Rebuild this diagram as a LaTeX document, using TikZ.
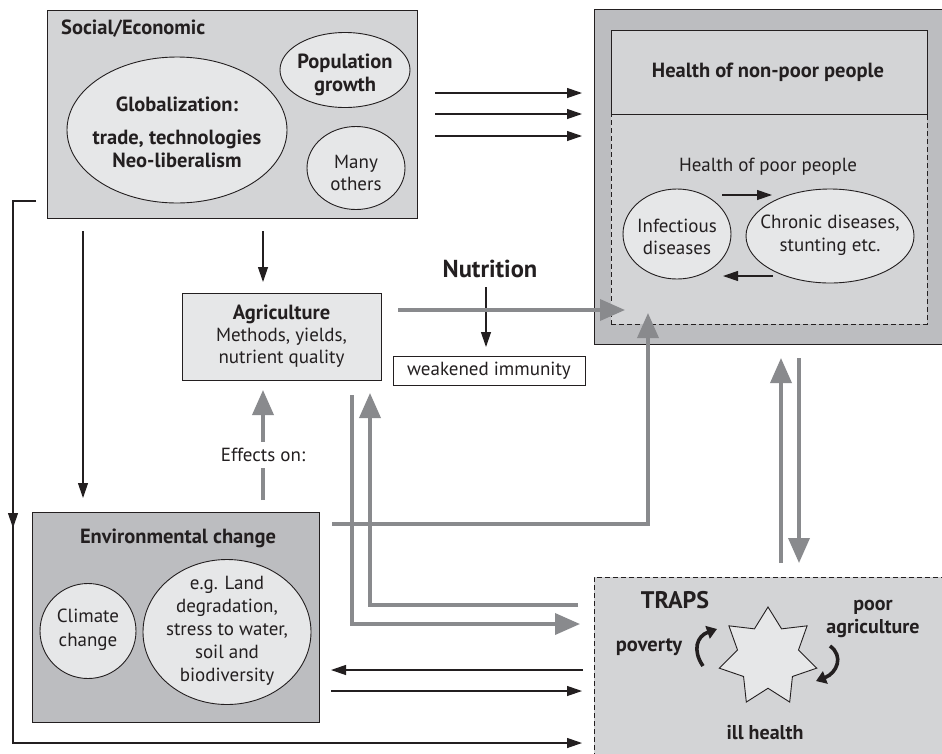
\documentclass[tikz,border=0pt]{standalone}
\usepackage{fontspec}
\setmainfont{PT Sans}
\usetikzlibrary{arrows.meta,shapes.geometric,calc}
\definecolor{boxlight}{HTML}{D3D4D6}
\definecolor{boxdark}{HTML}{BCBDC0}
\definecolor{ellfill}{HTML}{E6E7E8}
\definecolor{garrow}{HTML}{898A8D}
\definecolor{ink}{HTML}{231F20}
\begin{document}
\begin{tikzpicture}[x=1pt,y=-1pt,
  box/.style={draw=ink, line width=0.9pt, inner sep=0pt, outer sep=0pt, anchor=north west},
  dashbox/.style={box, dash pattern=on 5pt off 3pt},
  ell/.style={ellipse, draw=ink, line width=0.9pt, fill=ellfill, inner sep=0pt},
  blk/.style={draw=ink, line width=1.2pt, -{Triangle[length=15pt,width=10pt]}},
  gry/.style={draw=garrow, line width=3.6pt, -{Triangle[length=25pt,width=21pt]}},
  gryline/.style={draw=garrow, line width=3.6pt},
  curv/.style={draw=ink, line width=3.6pt, -{Triangle[length=10pt,width=13pt]}},
  lab/.style={font=\fontsize{19}{22.5}\selectfont, text=ink, align=center, inner sep=0pt},
  blab/.style={font=\fontsize{20.5}{23}\selectfont\bfseries, text=ink, align=center, inner sep=0pt},
]
\useasboundingbox (0,0) rectangle (942,753);

% ---------- boxes ----------
\node[box, fill=boxlight, minimum width=370pt, minimum height=208pt] (social) at (47,10) {};
\node[box, fill=boxdark, minimum width=360pt, minimum height=335pt] (health) at (594,9) {};
\node[dashbox, fill=boxlight, minimum width=316pt, minimum height=210pt] (poor) at (611,114) {};
\node[box, fill=boxlight, minimum width=316pt, minimum height=84pt] (nonpoor) at (611,30) {};
\node[box, fill=boxdark, minimum width=287pt, minimum height=210pt] (env) at (32,512) {};
\node[box, fill=ellfill, minimum width=199pt, minimum height=87pt, align=center, text=ink,
      font=\fontsize{19}{22}\selectfont] (agri) at (182,293)
      {{\fontsize{20.5}{22}\selectfont\bfseries Agriculture}\\Methods, yields,\\nutrient quality};
\node[box, fill=white, minimum width=192pt, minimum height=29pt, text=ink,
      font=\fontsize{19}{22}\selectfont] (weak) at (393,356) {weakened immunity};
\node[dashbox, fill=boxlight, minimum width=360pt, minimum height=200pt] (traps) at (594,577) {};

% ---------- social/economic ----------
\node[blab, anchor=west] (sociallab) at (61,29) {Social/Economic};
\node[ell, minimum width=220pt, minimum height=146pt] (glob) at (177,130) {};
\node[blab] (globtxt) at (177,132) {Globalization:\\[10pt]trade, technologies\\Neo-liberalism};
\node[ell, minimum width=130pt, minimum height=75pt] (pop) at (345,70) {};
\node[blab] (poptxt) at (345,75) {Population\\growth};
\node[ell, minimum width=98pt, minimum height=83pt] (many) at (356,168) {};
\node[lab] (manytxt) at (356,173) {Many\\others};

% ---------- health ----------
\node[blab] (nplab) at (768,72) {Health of non-poor people};
\node[lab] (plab) at (768,167) {Health of poor people};
\node[ell, minimum width=108pt, minimum height=90pt] (inf) at (677,234) {};
\node[lab] (inftxt) at (677,237) {Infectious\\diseases};
\node[ell, minimum width=168pt, minimum height=94pt] (chr) at (830,236) {};
\node[lab] (chrtxt) at (830,235) {Chronic diseases,\\stunting etc.};
\coordinate (ic1) at (722,195); \coordinate (ic2) at (772,195);
\coordinate (ci1) at (773,276); \coordinate (ci2) at (723,276);
\draw[blk] (ic1) -- (ic2);
\draw[blk] (ci1) -- (ci2);

% ---------- nutrition ----------
\node[font=\fontsize{24.5}{28}\selectfont\bfseries, text=ink, inner sep=0pt] (nutr) at (490,269) {Nutrition};
\coordinate (n1) at (486,287);
\draw[blk, shorten >=9pt] (n1) -- (n1 |- weak.north);

% ---------- environment ----------
\node[blab] (envlab) at (178,538) {Environmental change};
\node[ell, minimum width=96pt, minimum height=95pt] (clim) at (88,631) {};
\node[lab, font=\fontsize{19}{24}\selectfont] (climtxt) at (88,630) {Climate\\change};
\node[ell, minimum width=168pt, minimum height=145pt] (land) at (227,632) {};
\node[lab, font=\fontsize{19}{23}\selectfont] (landtxt) at (227,631) {e.g. Land\\degradation,\\stress to water,\\soil and\\biodiversity};

% ---------- traps ----------
\node[blab, font=\fontsize{24}{28}\selectfont\bfseries] (trapslab) at (675,600) {TRAPS};
\node[star, star points=7, star point ratio=1.6, minimum size=100pt, draw=ink, line width=0.9pt,
      fill=ellfill, inner sep=0pt] (star) at (768,657) {};
\node[blab] (povlab) at (649,647) {poverty};
\node[blab, font=\fontsize{20}{23}\selectfont\bfseries] (agrlab) at (873,619) {poor\\agriculture};
\node[blab, font=\fontsize{20}{23}\selectfont\bfseries] (illlab) at (765,733) {ill health};
\coordinate (cl1) at (703,666); \coordinate (cl2) at (717,629);
\coordinate (cr1) at (830,646); \coordinate (cr2) at (816,681);
\draw[curv] (cl1) .. controls (692,650) and (697,636) .. (cl2);
\draw[curv] (cr1) .. controls (844,656) and (837,673) .. (cr2);

% ---------- black connectors ----------
\coordinate (sh1) at (435,93);
\coordinate (sh2) at (435,114);
\coordinate (sh3) at (435,136);
\foreach \c in {sh1,sh2,sh3} \draw[blk, shorten >=12pt] (\c) -- (\c -| health.west);
\coordinate (s2a) at (263,231);
\draw[blk, shorten >=11pt] (s2a) -- (s2a |- agri.north);
\coordinate (s2e) at (83,231);
\draw[blk, shorten >=14pt] (s2e) -- (s2e |- env.north);
\coordinate (loopA) at (36,201);
\coordinate (loopB) at (13,201);
\coordinate (loopM) at (13,528);
\coordinate (loopC) at (13,743);
\draw[blk, shorten >=12pt] (loopA) -- (loopB) -- (loopC) -- (loopC -| traps.west);
\draw[blk] (loopB) -- (loopM);
\coordinate (te1) at (583,670); \coordinate (te2) at (331,670);
\coordinate (et1) at (331,691); \coordinate (et2) at (582,691);
\draw[blk] (te1) -- (te2);
\draw[blk] (et1) -- (et2);

% ---------- gray connectors ----------
\node[lab, fill=white, inner xsep=2pt, inner ysep=6pt] (eff) at (263,455) {Effects on:};
\coordinate (effbot) at (263,500);
\draw[gryline] (effbot) -- (eff.south);
\draw[gry, shorten >=10pt] (eff.north) -- (eff.north |- agri.south);
\coordinate (ah1) at (398,310); \coordinate (ah2) at (625,310);
\draw[gry] (ah1) -- (ah2);
\coordinate (eh1) at (332,524); \coordinate (eh2) at (648,524); \coordinate (eh3) at (648,313);
\draw[gry] (eh1) -- (eh2) -- (eh3);
\coordinate (at1) at (352,395); \coordinate (at2) at (352,624); \coordinate (at3) at (580,624);
\draw[gry] (at1) -- (at2) -- (at3);
\coordinate (ta1) at (578,605); \coordinate (ta2) at (370,605); \coordinate (ta3) at (370,393);
\draw[gry] (ta1) -- (ta2) -- (ta3);
\coordinate (hu1) at (781,563); \coordinate (hu2) at (781,358);
\coordinate (hd1) at (799,358); \coordinate (hd2) at (799,563);
\draw[gry] (hu1) -- (hu2);
\draw[gry] (hd1) -- (hd2);
\end{tikzpicture}
\end{document}
